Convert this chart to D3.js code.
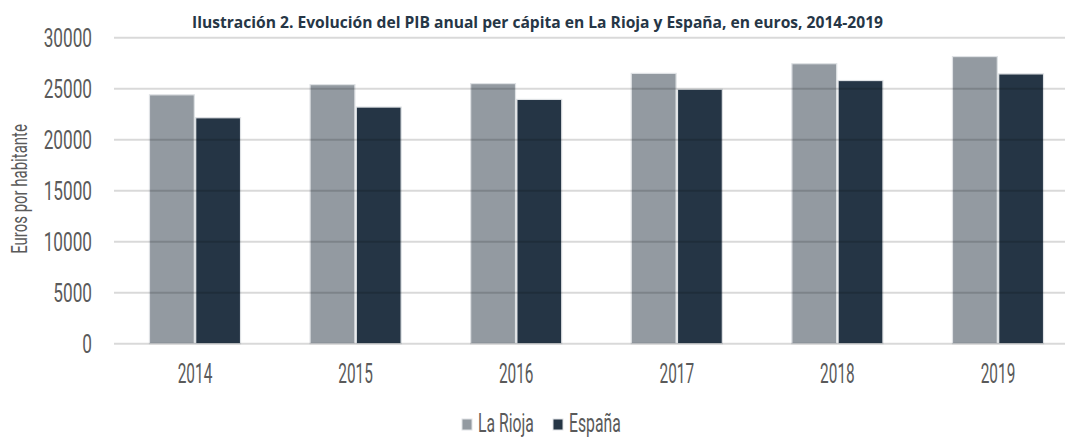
<!DOCTYPE html>
<html>
<head>
<meta charset="utf-8">
<script src="https://cdn.jsdelivr.net/npm/d3@7"></script>
<style>
  body { margin: 0; background: #fff; }
  svg { display: block; }
  .tick-label { font-family: "Roboto", "DejaVu Sans Condensed", sans-serif; font-weight: 400; fill: #5a5a5a; }
</style>
</head>
<body>
<svg id="chart" width="1065" height="437"></svg>
<script>
const years = ['2014', '2015', '2016', '2017', '2018', '2019'];
const seriesNames = ['La Rioja', 'España'];
const laRioja = [24400, 25400, 25500, 26500, 27450, 28150];
const espana = [22150, 23200, 23950, 24950, 25800, 26450];
const yTicks = [0, 5000, 10000, 15000, 20000, 25000, 30000];
const title = 'Ilustración 2. Evolución del PIB anual per cápita en La Rioja y España, en euros, 2014-2019';
const yTitle = 'Euros por habitante';

const colors = { 'La Rioja': '#939aa1', 'España': '#253545' };
const values = { 'La Rioja': laRioja, 'España': espana };

const svg = d3.select('#chart');
const plotLeft = 114.7;
const plotRight = 1078.3;
const plotTop = 37.7;
const plotBottom = 343.7;

const x = d3.scaleBand()
  .domain(years)
  .range([plotLeft, plotRight])
  .paddingInner(0.433)
  .paddingOuter(0.2165);
const xs = d3.scaleBand()
  .domain(seriesNames)
  .range([0, x.bandwidth()])
  .paddingInner(0.03);
const y = d3.scaleLinear()
  .domain([0, 30000])
  .range([plotBottom, plotTop]);

// title
svg.append('text')
  .attr('x', 192)
  .attr('y', 27.5)
  .attr('font-family', '"Open Sans", "Liberation Sans", sans-serif')
  .attr('font-weight', 'bold')
  .attr('font-size', 16)
  .attr('fill', '#263646')
  .attr('textLength', 691)
  .attr('lengthAdjust', 'spacingAndGlyphs')
  .text(title);

// bars
const groups = svg.append('g')
  .selectAll('g')
  .data(years)
  .join('g')
  .attr('transform', (d) => `translate(${x(d)},0)`);

groups.selectAll('rect')
  .data((d, i) => seriesNames.map((s) => ({ s, v: values[s][i] })))
  .join('rect')
  .attr('x', (d) => xs(d.s))
  .attr('y', (d) => y(d.v))
  .attr('width', xs.bandwidth())
  .attr('height', (d) => plotBottom - y(d.v))
  .attr('fill', (d) => colors[d.s])
  .attr('stroke', '#dfe2e5')
  .attr('stroke-width', 1.2);

// gridlines, drawn over the bars
svg.append('g')
  .selectAll('line')
  .data(yTicks)
  .join('line')
  .attr('x1', plotLeft - 0.7)
  .attr('x2', 1065)
  .attr('y1', (d) => y(d))
  .attr('y2', (d) => y(d))
  .attr('stroke', 'rgba(0,0,0,0.15)')
  .attr('stroke-width', 2);

// y tick labels
svg.append('g')
  .selectAll('text')
  .data(yTicks)
  .join('text')
  .classed('tick-label', true)
  .attr('text-anchor', 'end')
  .attr('font-size', 26.5)
  .attr('transform', (d) => `translate(92,${y(d) + 9.5}) scale(0.65,1)`)
  .text((d) => d);

// x tick labels
svg.append('g')
  .selectAll('text')
  .data(years)
  .join('text')
  .classed('tick-label', true)
  .attr('text-anchor', 'middle')
  .attr('font-size', 28.5)
  .attr('transform', (d) => `translate(${x(d) + x.bandwidth() / 2},382.5) scale(0.54,1)`)
  .text((d) => d);

// y axis title
svg.append('text')
  .classed('tick-label', true)
  .attr('text-anchor', 'middle')
  .attr('font-size', 22)
  .attr('transform', 'translate(26.5,189) rotate(-90) scale(0.68,1)')
  .text(yTitle);

// legend
const legendX = { 'La Rioja': 462, 'España': 553 };
const legend = svg.append('g')
  .selectAll('g')
  .data(seriesNames)
  .join('g')
  .attr('transform', (d) => `translate(${legendX[d]},419)`);
legend.append('rect')
  .attr('width', 10)
  .attr('height', 11)
  .attr('fill', (d) => colors[d])
  .attr('stroke', '#dfe2e5')
  .attr('stroke-width', 1);
legend.append('text')
  .classed('tick-label', true)
  .attr('font-size', 25)
  .attr('transform', 'translate(16,12.5) scale(0.63,1)')
  .text((d) => d);
</script>
</body>
</html>
